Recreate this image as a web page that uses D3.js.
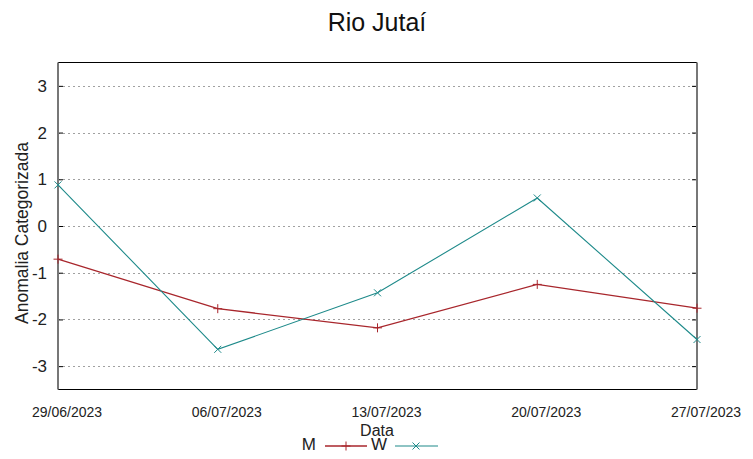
<!DOCTYPE html>
<html><head><meta charset="utf-8">
<script src="https://cdn.jsdelivr.net/npm/d3@7"></script>
<style>body{margin:0;background:#fff;}svg{display:block;font-family:"Liberation Sans",Arial,sans-serif;}</style>
</head><body>
<svg id="c" width="753" height="459"></svg>
<script>
const dates = ["29/06/2023","06/07/2023","13/07/2023","20/07/2023","27/07/2023"];
const seriesM = [-0.71,-1.77,-2.18,-1.25,-1.76];
const seriesW = [0.88,-2.64,-1.43,0.60,-2.43];
const yTicks = [-3,-2,-1,0,1,2,3];
const title = "Rio Jutaí";
const yLabel = "Anomalia Categorizada";
const xLabel = "Data";

const svg = d3.select("#c");
const L=58, R=697, T=62.5, B=389.5;
const x = d3.scalePoint().domain(dates).range([L,R]);
const y = d3.scaleLinear().domain([-3.5,3.5]).range([B,T]);

svg.append("text").attr("x",377).attr("y",31).attr("text-anchor","middle")
  .attr("font-size",25).attr("fill","#111").text(title);

// gridlines
svg.append("g").selectAll("line").data(yTicks).join("line")
  .attr("x1",L).attr("x2",R).attr("y1",d=>Math.round(y(d))+0.5).attr("y2",d=>Math.round(y(d))+0.5)
  .attr("stroke","#a0a0a0").attr("stroke-width",1).attr("stroke-dasharray","2,3");

// left and right axis ticks (inward)
const yAxis = d3.axisRight(y).tickValues(yTicks).tickSize(5).tickFormat("");
svg.append("g").attr("transform",`translate(${L},0)`).call(yAxis)
  .call(g=>g.select(".domain").remove()).selectAll("line").attr("stroke","#000");
const yAxisR = d3.axisLeft(y).tickValues(yTicks).tickSize(5).tickFormat("");
svg.append("g").attr("transform",`translate(${R},0)`).call(yAxisR)
  .call(g=>g.select(".domain").remove()).selectAll("line").attr("stroke","#000");

// tick labels
svg.append("g").selectAll("text").data(yTicks).join("text")
  .attr("x",47).attr("y",d=>y(d)+6).attr("text-anchor","end")
  .attr("font-size",17).attr("fill","#222").text(d=>d);

svg.append("g").selectAll("text").data(dates).join("text")
  .attr("x",d=>x(d)+9).attr("y",417).attr("text-anchor","middle")
  .attr("font-size",14).attr("fill","#222").text(d=>d);

// frame
svg.append("line").attr("x1",L).attr("x2",R).attr("y1",T).attr("y2",T).attr("stroke","#000").attr("stroke-width",1.2);
svg.append("line").attr("x1",L).attr("x2",R).attr("y1",B).attr("y2",B).attr("stroke","#000").attr("stroke-width",1.2);
svg.append("line").attr("x1",L).attr("x2",L).attr("y1",T).attr("y2",B).attr("stroke","#777").attr("stroke-width",2);
svg.append("line").attr("x1",R).attr("x2",R).attr("y1",T).attr("y2",B).attr("stroke","#777").attr("stroke-width",2);

// axis titles
svg.append("text").attr("transform","translate(28,233) rotate(-90)").attr("text-anchor","middle")
  .attr("font-size",17.5).attr("fill","#222").text(yLabel);
svg.append("text").attr("x",377).attr("y",436).attr("text-anchor","middle")
  .attr("font-size",16).attr("fill","#222").text(xLabel);

const colM = "#a8262c", colW = "#1e8a8a";
const line = d3.line().x((d,i)=>x(dates[i])).y(d=>y(d));
function plus(g,cx,cy,s,c){
  g.append("line").attr("x1",cx-s).attr("x2",cx+s).attr("y1",cy).attr("y2",cy).attr("stroke",c);
  g.append("line").attr("x1",cx).attr("x2",cx).attr("y1",cy-s).attr("y2",cy+s).attr("stroke",c);
}
function cross(g,cx,cy,s,c){
  g.append("line").attr("x1",cx-s).attr("x2",cx+s).attr("y1",cy-s).attr("y2",cy+s).attr("stroke",c);
  g.append("line").attr("x1",cx-s).attr("x2",cx+s).attr("y1",cy+s).attr("y2",cy-s).attr("stroke",c);
}
const gM = svg.append("g"), gW = svg.append("g");
gM.append("path").datum(seriesM).attr("d",line).attr("fill","none").attr("stroke",colM).attr("stroke-width",1.3);
seriesM.forEach((v,i)=>plus(gM,x(dates[i]),y(v),4.5,colM));
gW.append("path").datum(seriesW).attr("d",line).attr("fill","none").attr("stroke",colW).attr("stroke-width",1.1);
seriesW.forEach((v,i)=>cross(gW,x(dates[i]),y(v),3.5,colW));

// legend
const lg = svg.append("g");
lg.append("text").attr("x",316).attr("y",450).attr("text-anchor","end").attr("font-size",17).attr("fill","#222").text("M");
lg.append("line").attr("x1",325).attr("x2",367).attr("y1",446).attr("y2",446).attr("stroke",colM).attr("stroke-width",1.3);
plus(lg,346,446,4.5,colM);
lg.append("text").attr("x",387).attr("y",450).attr("text-anchor","end").attr("font-size",17).attr("fill","#222").text("W");
lg.append("line").attr("x1",395).attr("x2",438).attr("y1",446).attr("y2",446).attr("stroke",colW).attr("stroke-width",1.1);
cross(lg,416,446,3.5,colW);
</script>
</body></html>
